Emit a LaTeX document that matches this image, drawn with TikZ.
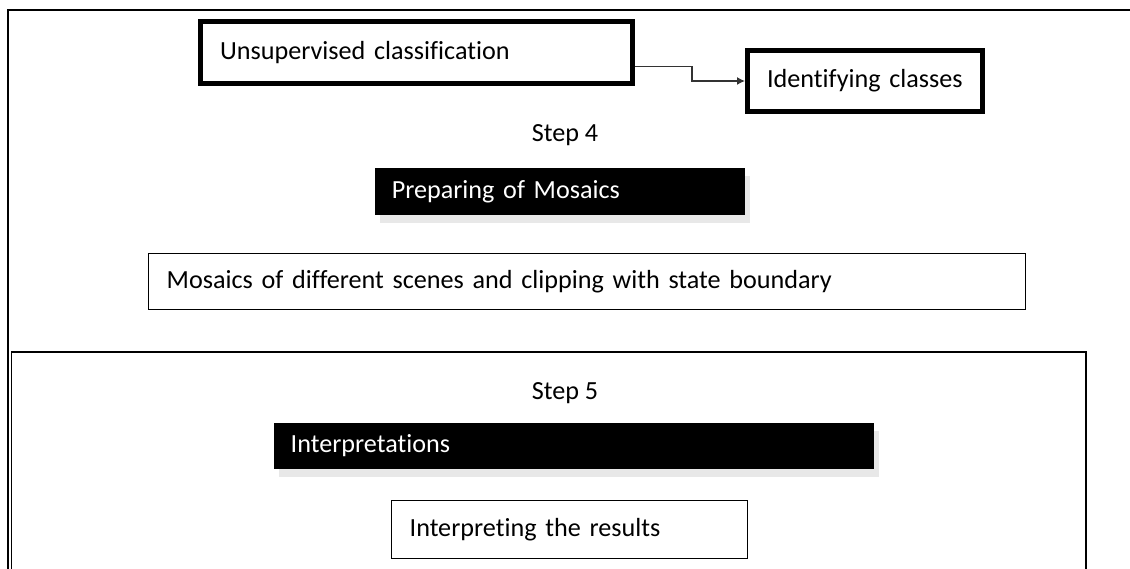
\documentclass[tikz,border=0pt]{standalone}
\usepackage{fontspec}
\setmainfont{Carlito}[Ligatures = NoCommon]
\usetikzlibrary{arrows.meta,shadows}

\begin{document}
\begin{tikzpicture}[x = 0.025cm, y = -0.025cm,
				font = \fontsize{18.6}{22}\selectfont,
				thickbox/.style = {rectangle, draw, line width = 3.5pt,
				align = left, inner xsep = 0.49cm, inner ysep = 0pt},
				thinbox/.style = {rectangle, draw, line width = 1.1pt,
				align = left, inner xsep = 0.45cm, inner ysep = 0pt},
				darkbox/.style = {rectangle, fill = black, text = white,
				align = left, inner xsep = 0.42cm, inner ysep = 0pt,
				drop shadow = {shadow xshift = 0.12cm, shadow yshift = -0.2cm,
				fill = gray!35}},
				steplabel/.style = {inner sep = 0pt},
				flow/.style = {draw = black!80, line width = 1pt,
				-{Latex[length = 0.2cm, width = 0.2cm]}}]

				\useasboundingbox (0,0) rectangle (1130,569);

				% frames
				\draw [line width = 1.4pt] (7.7,569) -- (7.7,10) -- (1130,10);
				\draw [line width = 1.1pt] (11.5,569) -- (11.5,351.8) -- (1086,351.8) -- (1086,569);

				\node [thickbox, minimum width = 10.8cm, minimum height = 1.55cm,
				text width = 9.82cm] (uc) at (416.5,52.5) {Unsupervised classification};
				\node [thickbox, minimum width = 5.875cm, minimum height = 1.525cm,
				text width = 4.895cm] (ic) at (865,81) {Identifying classes};

				\draw [flow] ([yshift = -0.35cm]uc.east) -- ++(57,0) |- (ic.west);

				\node [steplabel] (s4) at (565,135) {Step 4};
				\node [darkbox, minimum width = 9.25cm, minimum height = 1.175cm,
				text width = 8.41cm] (pm) at (560,191.5) {Preparing of Mosaics};
				\node [thinbox, minimum width = 21.91cm, minimum height = 1.39cm,
				text width = 21.01cm] (ms) at (587,281.5)
				{Mosaics of different scenes and clipping with state boundary};

				\node [steplabel] (s5) at (565,393) {Step 5};
				\node [darkbox, minimum width = 15cm, minimum height = 1.15cm,
				text width = 14.16cm] (ip) at (574,446) {Interpretations};
				\node [thinbox, minimum width = 8.89cm, minimum height = 1.44cm,
				text width = 7.99cm] (ir) at (569.5,529.5) {Interpreting the results};
\end{tikzpicture}
\end{document}
